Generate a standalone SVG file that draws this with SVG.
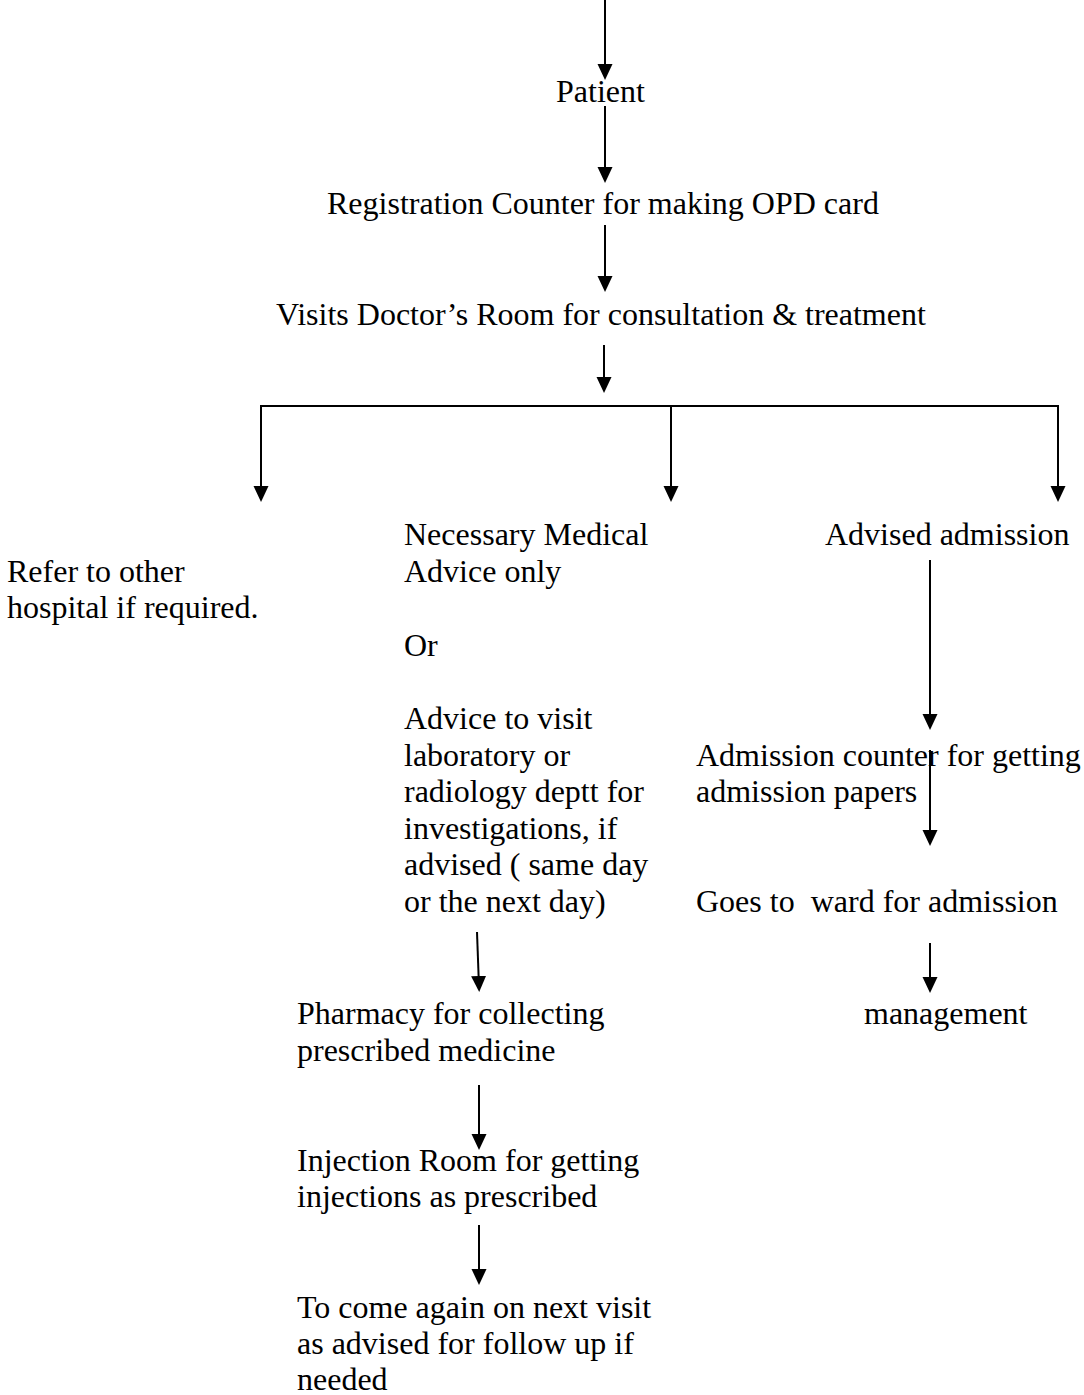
<svg xmlns="http://www.w3.org/2000/svg" width="1084" height="1395" viewBox="0 0 1084 1395">
  <style>
    text { font-family: "Liberation Serif", "Times New Roman", serif; font-size: 32px; fill: #000; white-space: pre; }
    .c { stroke: #000; stroke-width: 2; fill: none; }
  </style>
  <defs>
    <marker id="ah" markerUnits="userSpaceOnUse" markerWidth="16" markerHeight="16" viewBox="0 0 16 15" refX="8" refY="7.5" orient="auto">
      <path d="M0,0 L16,7.5 L0,15 z" fill="#000"/>
    </marker>
  </defs>
  <rect width="1084" height="1395" fill="#fff"/>
  <g id="connectors">
    <line class="c" x1="605" y1="0" x2="605" y2="72" marker-end="url(#ah)"/>
    <line class="c" x1="605" y1="106" x2="605" y2="175" marker-end="url(#ah)"/>
    <line class="c" x1="605" y1="225" x2="605" y2="284" marker-end="url(#ah)"/>
    <line class="c" x1="604" y1="345" x2="604" y2="385" marker-end="url(#ah)"/>
    <line class="c" x1="260" y1="406" x2="1059" y2="406"/>
    <line class="c" x1="261" y1="405" x2="261" y2="494" marker-end="url(#ah)"/>
    <line class="c" x1="671" y1="405" x2="671" y2="494" marker-end="url(#ah)"/>
    <line class="c" x1="1058" y1="405" x2="1058" y2="494" marker-end="url(#ah)"/>
    <line class="c" x1="930" y1="560" x2="930" y2="722" marker-end="url(#ah)"/>
    <line class="c" x1="930" y1="750" x2="930" y2="838" marker-end="url(#ah)"/>
    <line class="c" x1="930" y1="943" x2="930" y2="985" marker-end="url(#ah)"/>
    <line class="c" x1="477" y1="932" x2="478.9" y2="984" marker-end="url(#ah)"/>
    <line class="c" x1="479" y1="1085" x2="479" y2="1142" marker-end="url(#ah)"/>
    <line class="c" x1="479" y1="1225" x2="479" y2="1277" marker-end="url(#ah)"/>
  </g>
  <g id="patient"><text x="556" y="102">Patient</text></g>
  <g id="registration"><text x="327" y="214">Registration Counter for making OPD card</text></g>
  <g id="doctor"><text x="276" y="325">Visits Doctor’s Room for consultation &amp; treatment</text></g>
  <g id="refer">
    <text x="7" y="582">Refer to other</text>
    <text x="7" y="618">hospital if required.</text>
  </g>
  <g id="advice">
    <text x="404" y="545">Necessary Medical</text>
    <text x="404" y="582">Advice only</text>
    <text x="404" y="656">Or</text>
    <text x="404" y="729">Advice to visit</text>
    <text x="404" y="766">laboratory or</text>
    <text x="404" y="802">radiology deptt for</text>
    <text x="404" y="839">investigations, if</text>
    <text x="404" y="875">advised ( same day</text>
    <text x="404" y="912">or the next day)</text>
  </g>
  <g id="advised-admission"><text x="825" y="545">Advised admission</text></g>
  <g id="admission-counter">
    <text x="696" y="766">Admission counter for getting</text>
    <text x="696" y="802">admission papers</text>
  </g>
  <g id="ward"><text x="696" y="912">Goes to  ward for admission</text></g>
  <g id="management"><text x="864" y="1024">management</text></g>
  <g id="pharmacy">
    <text x="297" y="1024">Pharmacy for collecting</text>
    <text x="297" y="1061">prescribed medicine</text>
  </g>
  <g id="injection">
    <text x="297" y="1171">Injection Room for getting</text>
    <text x="297" y="1207">injections as prescribed</text>
  </g>
  <g id="followup">
    <text x="297" y="1318">To come again on next visit</text>
    <text x="297" y="1354">as advised for follow up if</text>
    <text x="297" y="1390">needed</text>
  </g>
</svg>
